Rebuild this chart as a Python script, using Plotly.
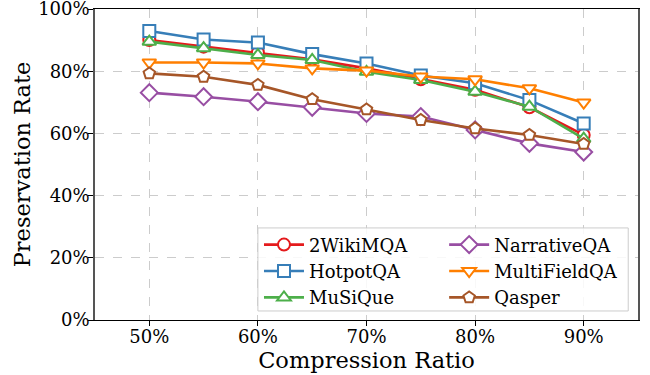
import plotly.graph_objects as go

ratios = [50, 55, 60, 65, 70, 75, 80, 85, 90]
y_ticks = [0, 20, 40, 60, 80, 100]
x_ticks = [50, 60, 70, 80, 90]

wiki2 = [90.0, 87.9, 86.0, 83.8, 80.9, 77.4, 74.0, 68.4, 59.5]
hotpot = [92.9, 90.2, 89.2, 85.5, 82.5, 78.6, 76.1, 70.7, 63.2]
musique = [89.5, 87.4, 85.2, 83.6, 79.8, 77.2, 73.4, 68.6, 58.3]
narrative = [73.1, 71.8, 70.2, 68.4, 66.4, 65.4, 61.1, 56.8, 54.0]
multifield = [82.8, 82.8, 82.5, 80.9, 80.2, 78.3, 77.4, 74.5, 69.9]
qasper = [79.3, 78.2, 75.6, 71.0, 67.7, 64.3, 61.6, 59.5, 56.6]

series = [
    ("2WikiMQA", wiki2, "#e41a1c", "circle", "legend"),
    ("HotpotQA", hotpot, "#377eb8", "square", "legend"),
    ("MuSiQue", musique, "#4daf4a", "triangle-up", "legend"),
    ("NarrativeQA", narrative, "#984ea3", "diamond", "legend2"),
    ("MultiFieldQA", multifield, "#ff7f00", "triangle-down", "legend2"),
    ("Qasper", qasper, "#a65628", "pentagon", "legend2"),
]

fig = go.Figure()
for name, vals, color, sym, leg in series:
    fig.add_trace(go.Scatter(
        x=ratios, y=vals, name=name, mode="lines+markers",
        line=dict(color=color, width=2.6),
        marker=dict(symbol=sym, size=12 if sym != "diamond" else 13,
                    color="white", line=dict(color=color, width=2)),
        legend=leg,
    ))

font = "DejaVu Serif"
fig.update_layout(
    width=650, height=375,
    margin=dict(l=95, r=12, t=9, b=55, autoexpand=False),
    plot_bgcolor="white", paper_bgcolor="white",
    font=dict(family=font, size=18, color="black"),
    xaxis=dict(
        range=[45, 95], tickvals=x_ticks, ticktext=[f"{v}%" for v in x_ticks],
        showgrid=True, gridcolor="#cccccc", griddash="dash", gridwidth=1,
        showline=True, linecolor="black", linewidth=1.2, mirror=True,
        ticks="outside", ticklen=5, tickcolor="black",
        ticklabelstandoff=-5, ticklabeloverflow="allow",
        title=dict(text="Compression Ratio", font=dict(size=22.5), standoff=2),
        zeroline=False, automargin=False,
    ),
    yaxis=dict(
        range=[0, 100], tickvals=y_ticks, ticktext=[f"{v}%" for v in y_ticks],
        showgrid=True, gridcolor="#cccccc", griddash="dash", gridwidth=1,
        showline=True, linecolor="#555555", linewidth=1.5, mirror=True,
        ticks="outside", ticklen=5, tickcolor="black",
        ticklabelstandoff=-5, ticklabeloverflow="allow",
        title=dict(text="Preservation Rate", font=dict(size=22.5), standoff=1),
        zeroline=False, automargin=False,
    ),
    legend=dict(
        x=0.302, y=0.301, xanchor="left", yanchor="top",
        bgcolor="rgba(0,0,0,0)", borderwidth=0,
        font=dict(size=18), tracegroupgap=0, itemwidth=40,
    ),
    legend2=dict(
        x=0.643, y=0.301, xanchor="left", yanchor="top",
        bgcolor="rgba(0,0,0,0)", borderwidth=0,
        font=dict(size=18), tracegroupgap=0, itemwidth=40,
    ),
    shapes=[dict(
        type="rect", xref="paper", yref="paper",
        x0=0.3, x1=0.982, y0=0.029, y1=0.296,
        fillcolor="rgba(255,255,255,0.85)", line=dict(color="#cccccc", width=1),
        layer="above",
    )],
)

fig.write_html("out.html", config={"displayModeBar": False},
               post_script="document.body.style.margin='0';")
